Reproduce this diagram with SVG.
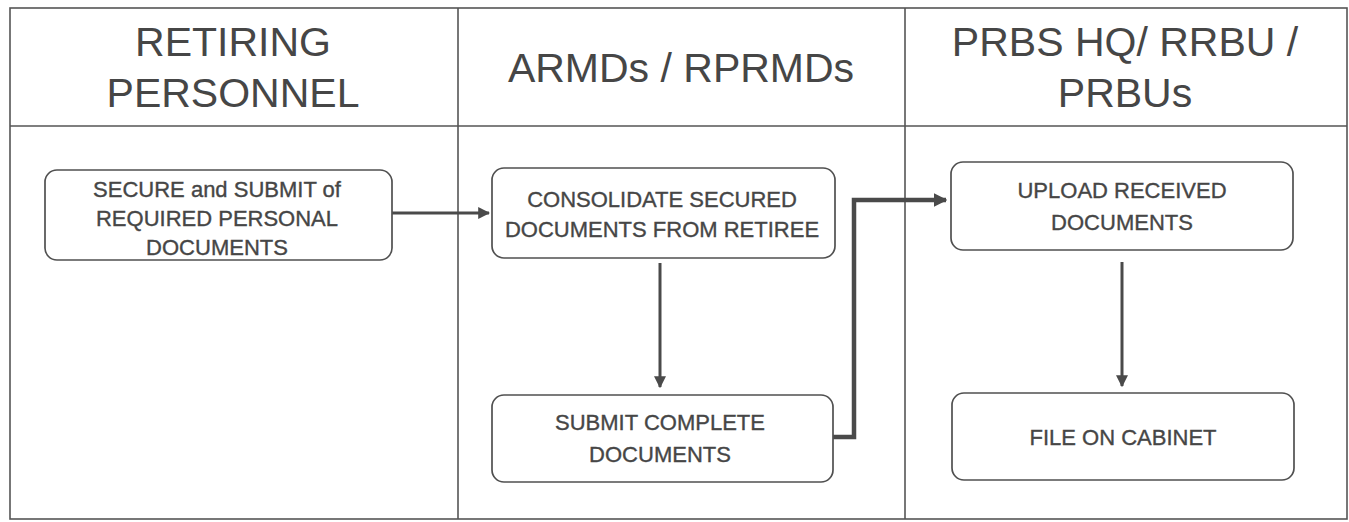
<svg xmlns="http://www.w3.org/2000/svg" width="1349" height="522" viewBox="0 0 1349 522">
  <style>
    .frame { fill: none; stroke: #555; stroke-width: 1.6; }
    .box { fill: #fff; stroke: #505050; stroke-width: 1.7; }
    .head { font-family: "Liberation Sans", Arial, sans-serif; font-size: 41px; fill: #464646; text-anchor: middle; }
    .label { font-family: "Liberation Sans", Arial, sans-serif; font-size: 22px; fill: #464646; stroke: #464646; stroke-width: 0.35; text-anchor: middle; }
    .conn { fill: none; stroke: #4a4a4a; stroke-width: 3; }
    .conn-thick { fill: none; stroke: #4a4a4a; stroke-width: 4.5; }
  </style>
  <defs>
    <marker id="arrow" viewBox="0 0 10 10" refX="9" refY="5" markerWidth="4" markerHeight="4" markerUnits="strokeWidth" orient="auto">
      <path d="M0,0 L10,5 L0,10 Z" fill="#4a4a4a"/>
    </marker>
    <marker id="arrow-sm" viewBox="0 0 10 10" refX="9" refY="5" markerWidth="3" markerHeight="3" markerUnits="strokeWidth" orient="auto">
      <path d="M0,0 L10,5 L0,10 Z" fill="#4a4a4a"/>
    </marker>
  </defs>

  <rect width="1349" height="522" fill="#fff"/>

  <!-- swimlane frame -->
  <g id="lanes">
    <rect class="frame" x="10" y="8" width="1337" height="511"/>
    <line class="frame" x1="10" y1="126" x2="1347" y2="126"/>
    <line class="frame" x1="458" y1="8" x2="458" y2="519"/>
    <line class="frame" x1="905" y1="8" x2="905" y2="519"/>
    <text class="head" x="233" y="56">RETIRING</text>
    <text class="head" x="233" y="107">PERSONNEL</text>
    <text class="head" x="681" y="82">ARMDs / RPRMDs</text>
    <text class="head" x="1125" y="56">PRBS HQ/ RRBU /</text>
    <text class="head" x="1125" y="107">PRBUs</text>
  </g>

  <!-- connectors -->
  <g id="connectors">
    <line class="conn" x1="392" y1="213" x2="489" y2="213" marker-end="url(#arrow)"/>
    <line class="conn" x1="660" y1="263" x2="660" y2="387" marker-end="url(#arrow)"/>
    <polyline class="conn-thick" points="833,437 854,437 854,200 946,200" marker-end="url(#arrow-sm)"/>
    <line class="conn" x1="1122" y1="262" x2="1122" y2="386" marker-end="url(#arrow)"/>
  </g>

  <g id="secure-submit">
    <rect class="box" x="45" y="170" width="347" height="90" rx="12"/>
    <text class="label" x="217" y="197">SECURE and SUBMIT of</text>
    <text class="label" x="217" y="226">REQUIRED PERSONAL</text>
    <text class="label" x="217" y="255">DOCUMENTS</text>
  </g>

  <g id="consolidate">
    <rect class="box" x="492" y="168" width="343" height="90" rx="12"/>
    <text class="label" x="662" y="207">CONSOLIDATE SECURED</text>
    <text class="label" x="662" y="237">DOCUMENTS FROM RETIREE</text>
  </g>

  <g id="submit-complete">
    <rect class="box" x="492" y="395" width="341" height="87" rx="12"/>
    <text class="label" x="660" y="430">SUBMIT COMPLETE</text>
    <text class="label" x="660" y="462">DOCUMENTS</text>
  </g>

  <g id="upload">
    <rect class="box" x="951" y="162" width="342" height="88" rx="12"/>
    <text class="label" x="1122" y="198">UPLOAD RECEIVED</text>
    <text class="label" x="1122" y="230">DOCUMENTS</text>
  </g>

  <g id="file-cabinet">
    <rect class="box" x="952" y="393" width="342" height="87" rx="12"/>
    <text class="label" x="1123" y="445">FILE ON CABINET</text>
  </g>
</svg>
